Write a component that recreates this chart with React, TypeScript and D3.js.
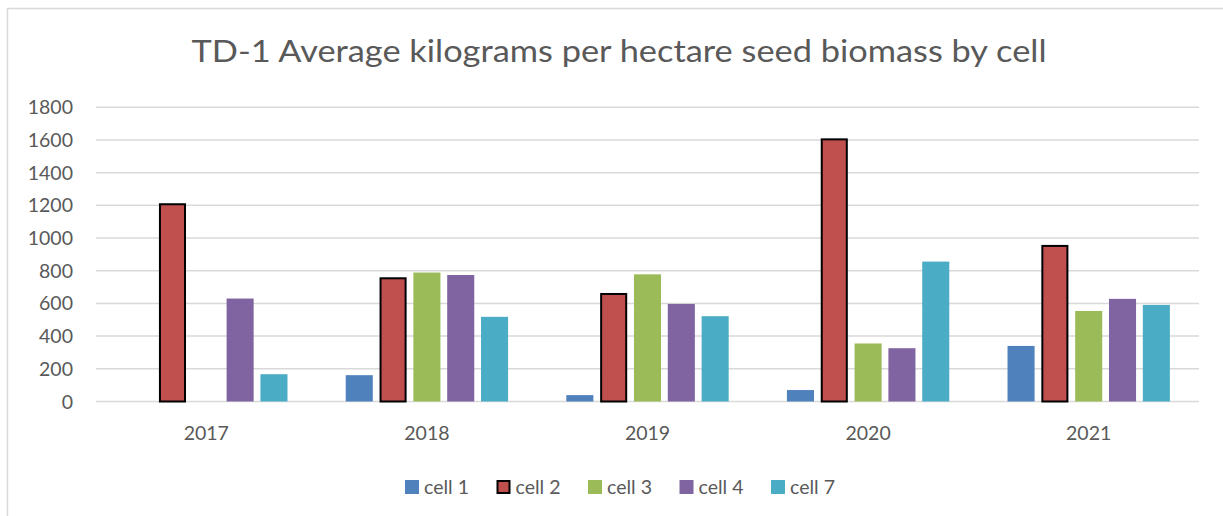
import React from 'react';
import * as d3 from 'd3';

// chart data
const years = ['2017', '2018', '2019', '2020', '2021'];
const seriesNames = ['cell 1', 'cell 2', 'cell 3', 'cell 4', 'cell 7'];
const cell1 = [0, 161, 39, 70, 340];
const cell2 = [1213, 760, 664, 1610, 958];
const cell3 = [0, 789, 778, 355, 554];
const cell4 = [630, 774, 597, 326, 628];
const cell7 = [167, 518, 522, 856, 591];
const yTicks = [0, 200, 400, 600, 800, 1000, 1200, 1400, 1600, 1800];

const seriesValues = [cell1, cell2, cell3, cell4, cell7];
const colors = ['#4F81BD', '#C0504D', '#9BBB59', '#8064A2', '#4BACC6'];

const W = 1223;
const H = 516;
const FONT = 'Lato, "Open Sans", sans-serif';
const TEXT = '#595959';

const App = () => {
  const plot = { left: 96, right: 1199, top: 107.3, bottom: 401.5 };

  const x0 = d3.scaleBand().domain(years).range([plot.left, plot.right]);
  const groupWidth = x0.bandwidth() * 0.736;
  const x1 = d3
    .scaleBand()
    .domain(seriesNames)
    .range([0, groupWidth])
    .paddingInner(0.2);

  const y = d3.scaleLinear().domain([0, 1800]).range([plot.bottom, plot.top]);

  const legendX = d3.scalePoint().domain(seriesNames).range([405, 771]);

  return (
    <svg
      width={W}
      height={H}
      style={{ position: 'absolute', left: 0, top: 0, background: '#fff' }}
      fontFamily={FONT}
    >
      <rect x={7.5} y={8.5} width={W} height={H} fill="#fff" stroke="#d9d9d9" strokeWidth={1.5} />

      <text x={619} y={62} textAnchor="middle" fontSize={30} fill={TEXT} textLength={855} lengthAdjust="spacingAndGlyphs">
        TD-1 Average kilograms per hectare seed biomass by cell
      </text>

      {/* gridlines + y labels */}
      {yTicks.map((t) => (
        <g key={t}>
          <line x1={plot.left} x2={plot.right} y1={y(t)} y2={y(t)} stroke="#d9d9d9" strokeWidth={1.5} />
          <text x={73} y={y(t)} dy="0.36em" textAnchor="end" fontSize={19.5} fill={TEXT}>
            {t}
          </text>
        </g>
      ))}

      {/* bars */}
      {years.map((yr, i) => {
        const gx = (x0(yr) as number) + (x0.bandwidth() - groupWidth) / 2;
        return (
          <g key={yr} transform={`translate(${gx},0)`}>
            {seriesNames.map((s, j) => {
              const v = seriesValues[j][i];
              if (!v) return null;
              const isCell2 = s === 'cell 2';
              const bx = x1(s) as number;
              const bw = x1.bandwidth();
              return (
                <rect
                  key={s}
                  x={isCell2 ? bx + 1 : bx}
                  y={isCell2 ? y(v) + 1 : y(v)}
                  width={isCell2 ? bw - 2 : bw}
                  height={isCell2 ? y(0) - y(v) - 1 : y(0) - y(v)}
                  fill={colors[j]}
                  stroke={isCell2 ? '#000' : 'none'}
                  strokeWidth={isCell2 ? 2 : 0}
                />
              );
            })}
          </g>
        );
      })}

      {/* x labels */}
      {years.map((yr) => (
        <text
          key={yr}
          x={(x0(yr) as number) + x0.bandwidth() / 2}
          y={440}
          textAnchor="middle"
          fontSize={19.5}
          fill={TEXT}
        >
          {yr}
        </text>
      ))}

      {/* legend */}
      {seriesNames.map((s, j) => {
        const lx = legendX(s) as number;
        const isCell2 = s === 'cell 2';
        return (
          <g key={s}>
            <rect
              x={isCell2 ? lx + 1 : lx}
              y={isCell2 ? 481 : 480}
              width={isCell2 ? 12 : 14}
              height={isCell2 ? 12 : 14}
              fill={colors[j]}
              stroke={isCell2 ? '#000' : 'none'}
              strokeWidth={isCell2 ? 2 : 0}
            />
            <text x={lx + 19} y={493.5} fontSize={19.5} fill={TEXT}>
              {s}
            </text>
          </g>
        );
      })}
    </svg>
  );
};

export default App;
